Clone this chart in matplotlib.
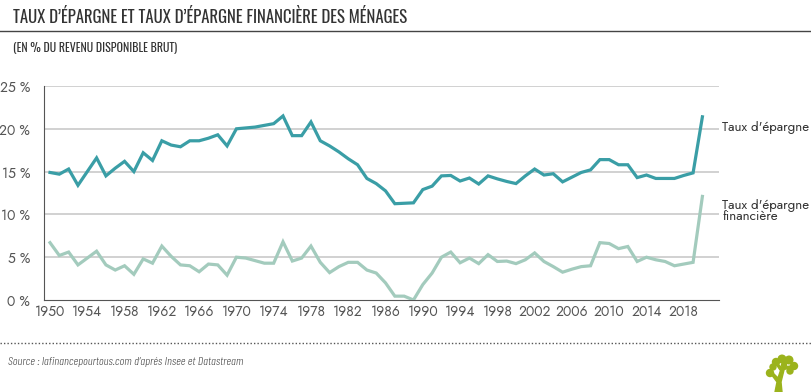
import numpy as np
import matplotlib
matplotlib.use("Agg")
import matplotlib.pyplot as plt
from matplotlib import font_manager as fm
from matplotlib.patches import Circle, Polygon

years = list(range(1950, 2021))

taux_epargne = [14.9, 14.7, 15.3, 13.4, 15.0, 16.6, 14.5, 15.4, 16.2, 15.0,
                17.2, 16.3, 18.6, 18.1, 17.9, 18.6, 18.6, 18.9, 19.3, 18.0,
                20.0, 20.1, 20.2, 20.4, 20.6, 21.5, 19.2, 19.2, 20.8, 18.6,
                18.0, 17.3, 16.5, 15.8, 14.2, 13.6, 12.75, 11.25, 11.3, 11.35,
                12.9, 13.3, 14.5, 14.55, 13.9, 14.25, 13.55, 14.5, 14.15, 13.85,
                13.6, 14.5, 15.3, 14.6, 14.75, 13.8, 14.35, 14.9, 15.2, 16.4,
                16.4, 15.8, 15.8, 14.3, 14.6, 14.2, 14.2, 14.2, 14.55, 14.85,
                21.4]

taux_financier = [6.7, 5.2, 5.6, 4.1, 4.9, 5.7, 4.1, 3.5, 4.0, 3.0,
                  4.8, 4.3, 6.3, 5.1, 4.1, 4.0, 3.3, 4.2, 4.1, 2.9,
                  5.0, 4.9, 4.6, 4.3, 4.3, 6.8, 4.55, 4.9, 6.3, 4.4,
                  3.2, 3.9, 4.4, 4.4, 3.5, 3.15, 2.0, 0.45, 0.45, 0.0,
                  1.8, 3.15, 5.0, 5.6, 4.35, 4.9, 4.25, 5.3, 4.5, 4.55,
                  4.25, 4.7, 5.5, 4.5, 3.9, 3.25, 3.6, 3.9, 4.0, 6.7,
                  6.6, 6.0, 6.25, 4.5, 5.0, 4.7, 4.5, 4.0, 4.2, 4.4,
                  12.1]

xticks = list(range(1950, 2019, 4))
yticks = [0, 5, 10, 15, 20, 25]
ylabels = ["0 %", "5 %", "10 %", "15 %", "20 %", "25 %"]

dispo = {f.name for f in fm.fontManager.ttflist}
def choisir(noms, defaut):
    for n in noms:
        if n in dispo:
            return n
    return defaut

# polices proches de Futura (légère) et Futura condensée
fnt = choisir(["Jost", "Lato"], "DejaVu Sans")
fnt_titre = choisir(["Oswald", "Barlow Condensed", "Fjalla One", "Antonio",
                     "Roboto Condensed", "Archivo Narrow"], "DejaVu Sans")
fnt_source = choisir(["Barlow Condensed", "Roboto Condensed",
                      "Archivo Narrow", "Lato"], "DejaVu Sans")
poids_leger = 300 if fnt == "Jost" else "normal"

W, H = 812, 392
fig = plt.figure(figsize=(W / 100, H / 100), dpi=100)
renderer = fig.canvas.get_renderer()

def ajuster(t, largeur):
    # règle la taille pour obtenir la largeur voulue en pixels
    w = t.get_window_extent(renderer).width
    t.set_fontsize(t.get_fontsize() * largeur / w)
    return t.get_fontsize()

# zone du graphique
ax = fig.add_axes([44 / W, 1 - 300 / H, (719 - 44) / W, (300 - 86) / H])
ax.set_xlim(1950 - 6 / 9.32, 1950 + (719 - 50) / 9.32)
ax.set_ylim(0, 25)

for y in yticks[1:]:
    ax.axhline(y, color="#c9c9c9", lw=1.2, zorder=1)

ax.plot(years, taux_financier, color="#a3cbbd", lw=2.3, zorder=3,
        solid_joinstyle="miter")
ax.plot(years, taux_epargne, color="#3a9ea6", lw=2.3, zorder=4,
        solid_joinstyle="miter")

for s in ["top", "right"]:
    ax.spines[s].set_visible(False)
ax.spines["left"].set_color("#555555")
ax.spines["bottom"].set_color("#555555")

ax.set_yticks(yticks)
ax.set_yticklabels(ylabels, fontfamily=fnt, fontweight=poids_leger,
                   fontsize=10, color="#555555")
ax.set_xticks(xticks)
ax.set_xticklabels([str(x) for x in xticks], fontfamily=fnt,
                   fontweight=poids_leger, fontsize=10, color="#555555")
ax.tick_params(axis="y", length=0, pad=10)
ax.tick_params(axis="x", length=0, pad=3)

# étiquettes des séries
xl = 1950 + (722 - 50) / 9.32
e1 = ax.text(xl, 20.2, "Taux d'épargne", fontfamily=fnt, fontweight=poids_leger,
             fontsize=10.5, color="#333333", va="center", ha="left", clip_on=False)
taille = ajuster(e1, 87)
ax.text(xl, 10.4, "Taux d'épargne\nfinancière", fontfamily=fnt,
        fontweight=poids_leger, fontsize=taille, color="#333333", va="center",
        ha="left", linespacing=0.85, clip_on=False)

# titres
t1 = fig.text(13 / W, 1 - 17 / H, "TAUX D’ÉPARGNE ET TAUX D’ÉPARGNE FINANCIÈRE DES MÉNAGES",
              fontfamily=fnt_titre, fontweight="bold", fontsize=14, color="#333333",
              va="center", ha="left")
ajuster(t1, 397)
fig.add_artist(plt.Line2D([0, 1], [1 - 31 / H, 1 - 31 / H], color="#444444",
                          lw=1.0, transform=fig.transFigure))
t2 = fig.text(13 / W, 1 - 47 / H, "(EN % DU REVENU DISPONIBLE BRUT)",
              fontfamily=fnt_titre, fontweight="bold", fontsize=10.5, color="#333333",
              va="center", ha="left")
ajuster(t2, 164)

# pied
fig.add_artist(plt.Line2D([0, 1], [1 - 343 / H, 1 - 343 / H], color="#555555",
                          lw=1.0, ls=(0, (1, 1.5)), transform=fig.transFigure))
t3 = fig.text(8 / W, 1 - 362 / H, "Source : lafinancepourtous.com d’aprés Insee et Datastream",
              fontfamily=fnt_source, fontweight=300, fontstyle="italic",
              fontsize=9.5, color="#444444", va="center", ha="left")
ajuster(t3, 235)

# petit arbre
lax = fig.add_axes([762 / W, 0, 40 / W, 40 / H])
lax.set_xlim(0, 40)
lax.set_ylim(0, 40)
lax.axis("off")
vert = "#9bb31c"
lax.add_patch(Polygon([[13, 0], [20, 0], [19, 10], [22, 22], [25, 30],
                       [23, 31], [19, 23], [16, 14], [10, 20], [9, 18],
                       [15, 10]], closed=True, color=vert))
for (cx, cy, r) in [(8, 19, 3.5), (14, 30, 3.5), (20, 33, 3.8), (27, 32, 3.8),
                    (32, 26, 3.5), (28, 21, 3.0), (11, 25, 3.0), (22, 27, 2.5)]:
    lax.add_patch(Circle((cx, cy), r, color=vert))
lax.add_patch(Polygon([[20, 22], [28, 24], [29, 26], [21, 25]], color=vert))
lax.add_patch(Polygon([[18, 22], [14, 28], [15, 29], [20, 24]], color=vert))

fig.savefig("out.png", dpi=100)
